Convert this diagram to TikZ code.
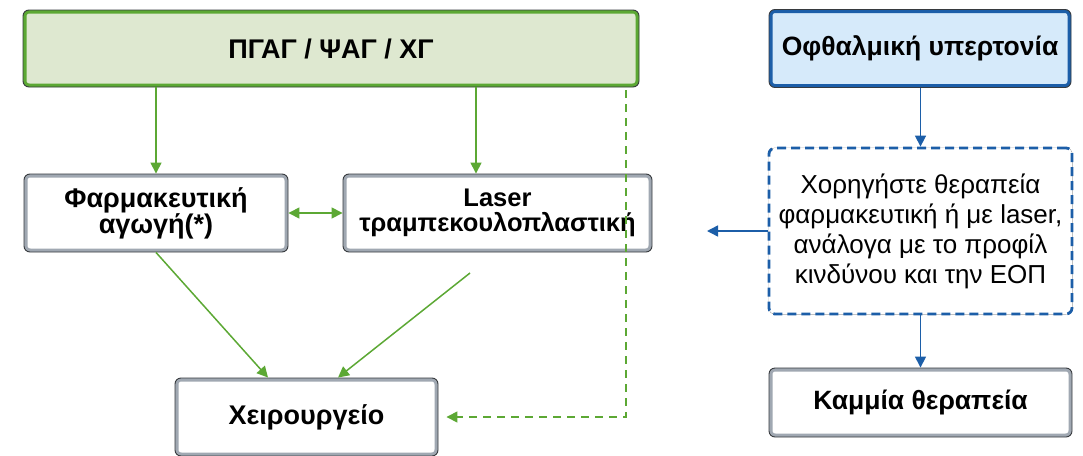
\documentclass[tikz,border=0pt]{standalone}
\usepackage{fontspec}
\setmainfont{Liberation Sans}
\usetikzlibrary{arrows.meta}

\definecolor{leafgreen}{RGB}{92,168,52}
\definecolor{palegreen}{RGB}{222,232,208}
\definecolor{deepblue}{RGB}{28,94,168}
\definecolor{paleblue}{RGB}{214,234,250}
\definecolor{edgedark}{RGB}{55,58,62}
\definecolor{framegray}{RGB}{160,168,178}

\tikzset{
  box/.style={rectangle, rounded corners=6pt, align=center, inner sep=0pt,
    draw=edgedark, line width=0.9pt, text=black},
  % inner coloured band just inside the dark outline
  band/.style={path picture={\draw[rounded corners=6pt, line width=7pt, draw=#1]
      (path picture bounding box.south west) rectangle (path picture bounding box.north east);}},
  whitebox/.style={box, fill=white, band=framegray},
  greenbox/.style={box, fill=palegreen, band=leafgreen},
  bluebox/.style={box, fill=paleblue, band=deepblue},
  dashbox/.style={rectangle, rounded corners=6pt, align=center, inner sep=0pt, fill=white,
    draw=deepblue, line width=2.8pt, dash pattern=on 9pt off 5pt,
    preaction={draw=edgedark, line width=0.5pt, solid}},
  bigbold/.style={font=\fontsize{27}{26}\selectfont\bfseries},
  laserbold/.style={font=\fontsize{25.5}{25.5}\selectfont\bfseries},
  midbold/.style={font=\fontsize{26.5}{25}\selectfont\bfseries},
  plain/.style={font=\fontsize{26}{30}\selectfont},
  garrow/.style={draw=leafgreen, line width=1.5pt, -{Triangle[length=11pt,width=11pt]}},
  gdash/.style={garrow, dash pattern=on 8pt off 6pt},
  gboth/.style={draw=leafgreen, line width=1.5pt, {Triangle[length=11pt,width=11pt]}-{Triangle[length=11pt,width=11pt]}},
  barrow/.style={draw=deepblue, line width=1.5pt, -{Triangle[length=11pt,width=11pt]}},
}

\begin{document}
\begin{tikzpicture}[x=1pt, y=-1pt]
\useasboundingbox (0,0) rectangle (1083,455);

% left branch
\node[greenbox, bigbold, minimum width=616pt, minimum height=77pt] (top) at (331,48.5) {ΠΓΑΓ / ΨΑΓ / ΧΓ};
\node[whitebox, bigbold, minimum width=264pt, minimum height=78pt] (pharma) at (156,213) {Φαρμακευτική\\αγωγή(*)};
\node[whitebox, laserbold, minimum width=309pt, minimum height=78pt] (laser) at (497.5,213) {Laser\\τραμπεκουλοπλαστική};
\node[whitebox, bigbold, minimum width=263pt, minimum height=78pt] (surg) at (306.5,417) {Χειρουργείο};

\coordinate (laserdrop) at (476,0);
\coordinate (dashx) at (626,0);
\coordinate (pharmaend) at (268,0);
\coordinate (laserfrom) at (470,273);
\coordinate (laserend) at (338,0);

\draw[garrow] (top.south -| pharma.north) -- (pharma.north);
\draw[garrow] (top.south -| laserdrop) -- (laser.north -| laserdrop);
\draw[gboth] (pharma.east) -- (laser.west);
\draw[garrow] (pharma.south) -- (surg.north -| pharmaend);
\draw[garrow] (laserfrom) -- (surg.north -| laserend);
\draw[gdash, shorten <=3pt, shorten >=8pt] (top.south -| dashx) |- (surg.east);

% right branch
\node[bluebox, midbold, minimum width=302pt, minimum height=78pt] (iop) at (920,48.5) {Οφθαλμική υπερτονία};
\node[dashbox, plain, minimum width=303pt, minimum height=166pt] (treat) at (920.5,231) {Χορηγήστε θεραπεία\\φαρμακευτική ή με laser,\\ανάλογα με το προφίλ\\κινδύνου και την ΕΟΠ};
\node[whitebox, midbold, minimum width=303pt, minimum height=69pt] (none) at (920.5,402.5) {Καμμία θεραπεία};

\coordinate (leftout) at (707,0);

\draw[barrow] (iop.south -| treat.north) -- (treat.north);
\draw[barrow] (treat.west) -- (treat.west -| leftout);
\draw[barrow] (treat.south) -- (none.north);
\end{tikzpicture}
\end{document}
